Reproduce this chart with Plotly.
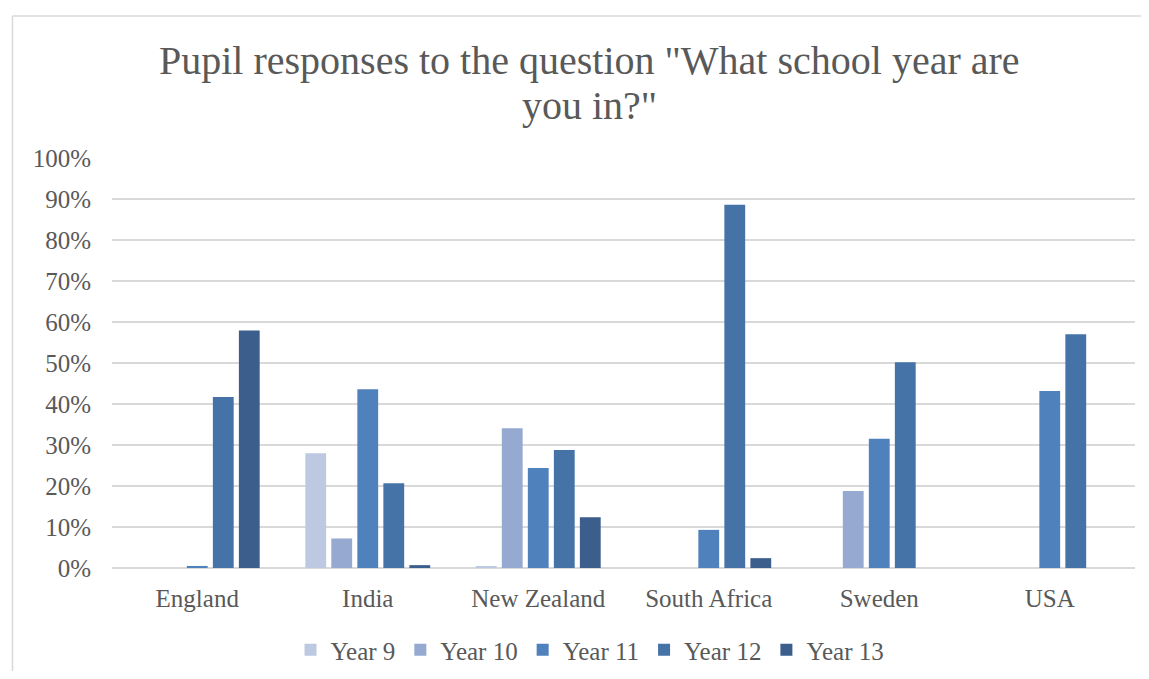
import plotly.graph_objects as go

countries = ["England", "India", "New Zealand", "South Africa", "Sweden", "USA"]
series_names = ["Year 9", "Year 10", "Year 11", "Year 12", "Year 13"]
year9 = [0, 28.0, 0.4, 0, 0, 0]
year10 = [0, 7.2, 34.1, 0, 18.8, 0]
year11 = [0.5, 43.6, 24.4, 9.3, 31.5, 43.2]
year12 = [41.7, 20.7, 28.8, 88.6, 50.2, 57.0]
year13 = [57.9, 0.7, 12.4, 2.4, 0, 0]
series_values = [year9, year10, year11, year12, year13]
colors = ["#BDC9E1", "#95A9D1", "#4F81BD", "#4573A7", "#3B5E8C"]
y_ticks = [0, 10, 20, 30, 40, 50, 60, 70, 80, 90, 100]
y_tick_labels = ["0%", "10%", "20%", "30%", "40%", "50%", "60%", "70%", "80%", "90%", "100%"]
title_lines = ['Pupil responses to the question "What school year are', 'you in?"']

FONT = "Liberation Serif"
TXT = "#595959"

fig = go.Figure()
for name, vals, col in zip(series_names, series_values, colors):
    fig.add_trace(go.Bar(name=name, x=countries, y=vals,
                         marker=dict(color=col, line=dict(width=0))))

OFF = 8  # page offset of the figure in the browser
W, H = 1149 - OFF, 679 - 2 * OFF
L, R, T, B = 112 - OFF, 1135 - OFF, 158 - OFF, 568 - OFF
pw, ph = R - L, B - T

fig.update_layout(
    width=W, height=H,
    margin=dict(l=L, r=W - R, t=T, b=H - B, pad=0),
    paper_bgcolor="white", plot_bgcolor="white",
    barmode="group", bargap=0.237, bargroupgap=0.2,
    font=dict(family=FONT, color=TXT, size=24),
    xaxis=dict(showgrid=False, showline=False, ticks="", tickfont=dict(size=25, color=TXT),
               ticklabelstandoff=13),
    yaxis=dict(range=[0, 100], tickvals=y_ticks, ticktext=y_tick_labels, showgrid=True,
               gridcolor="#D9D9D9", gridwidth=1.5, zeroline=True, zerolinecolor="#D9D9D9",
               zerolinewidth=1.5, showline=False, ticks="", tickfont=dict(size=25, color=TXT),
               ticklabelstandoff=20),
    legend=dict(orientation="h", x=(590 - OFF) / W, xref="container", xanchor="center",
                y=1 - (650 - OFF) / H, yref="container", yanchor="middle",
                font=dict(size=25, color=TXT), itemwidth=30, traceorder="normal"),
    showlegend=True,
)

for line, yc in zip(title_lines, [60, 105]):
    fig.add_annotation(text=line, showarrow=False, xref="paper", yref="paper",
                       x=(589 - OFF - L) / pw, y=(B - (yc - OFF)) / ph,
                       xanchor="center", yanchor="middle",
                       font=dict(family=FONT, size=40, color=TXT))

bx0 = (12.5 - OFF - L) / pw
bx1 = (W + 20 - L) / pw
by1 = (B - (16 - OFF)) / ph
by0 = (B - (H + 20)) / ph
fig.add_shape(type="line", xref="paper", yref="paper", x0=bx0, x1=bx1, y0=by1, y1=by1,
              line=dict(color="#D9D9D9", width=1.5), layer="below")
fig.add_shape(type="line", xref="paper", yref="paper", x0=bx0, x1=bx0, y0=by0, y1=by1,
              line=dict(color="#D9D9D9", width=1.5), layer="below")

fig.write_html("out.html")
